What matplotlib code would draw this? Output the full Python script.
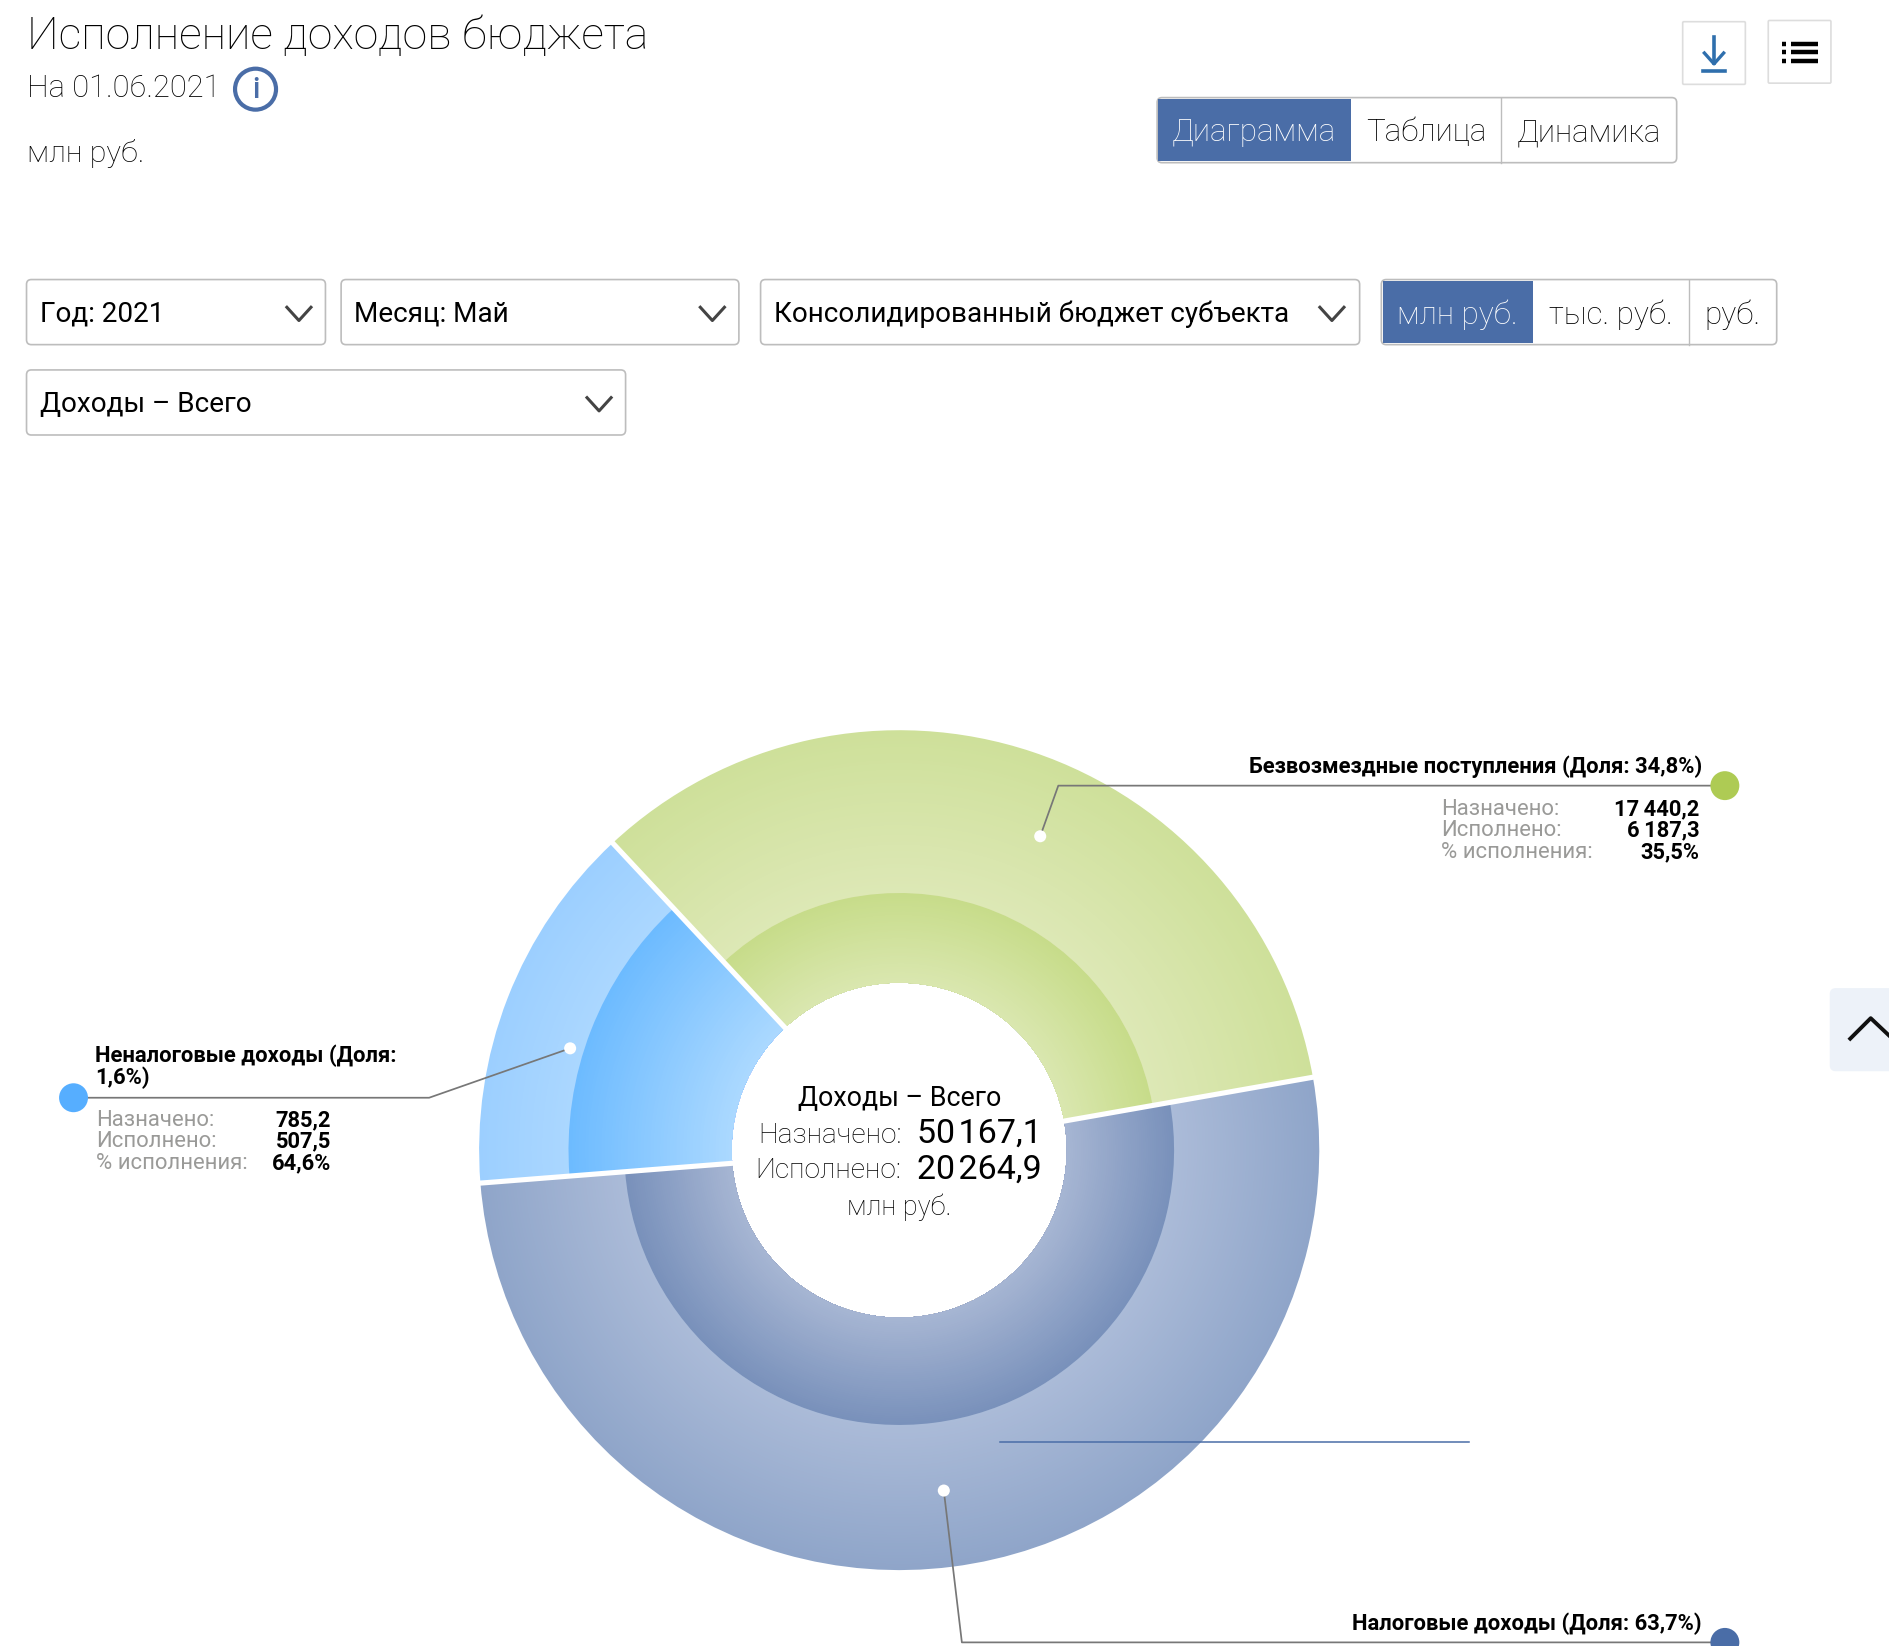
#!/usr/bin/python3
"""Budget revenue execution page: two-ring radial donut with the page controls around it."""
import numpy as np
import matplotlib
matplotlib.use("Agg")
import matplotlib.pyplot as plt
from matplotlib.patches import Wedge, Circle, FancyBboxPatch, Rectangle

plt.rcParams["font.family"] = ["Roboto", "DejaVu Sans"]

# data (the tax row is cut off at the bottom of the page, 42.5 is from its ring)
categories = ["Безвозмездные поступления", "Неналоговые доходы", "Налоговые доходы"]
shares = ["34,8%", "1,6%", "63,7%"]
planned = ["17\u2009440,2", "785,2"]
executed = ["6\u2009187,3", "507,5"]
percent_done = [35.5, 64.6, 42.5]
slice_degrees = [123.0, 51.5, 185.5]   # sweep as drawn, the site stretches tiny slices
total_planned = "50\u200a167,1"
total_executed = "20\u200a264,9"

# (inner-ring hole colour, inner-ring edge, outer-ring start, outer-ring edge)
ring_colors = [("#dae7b0", "#c7dc8a", "#dde8b6", "#cee09a"),
               ("#acd9ff", "#6dbbff", "#abd7ff", "#9ccfff"),
               ("#a7b6d3", "#7991bb", "#abbbd8", "#8fa5c9")]
dot_colors = ["#aecb54", "#56aeff", "#4a6da7"]

BLUE = "#4a6da7"
LINE = "#777777"
GREY = "#9a9a98"
EDGE = "#bdbdbd"
INK = "#000000"
CX, CY = 746, 954.5
R_OUT, R_HOLE = 348.5, 139.0
START = 10.0

W, H = 1568, 1366
fig = plt.figure(figsize=(18.9, 16.46), dpi=100)
ax = fig.add_axes([0, 0, 1, 1])
ax.set_xlim(0, W)
ax.set_ylim(H, 0)
ax.axis("off")


def fs(px):
    # px in picture-view units to points
    return px * 1890 / 1568 * 0.72


def text(x, y, s, size, color="black", ha="left", weight="normal", **kw):
    # va=center sits a bit high for this font, hence the nudge
    return ax.text(x, y + 1.5, s, fontsize=fs(size), color=color, ha=ha, va="center",
                   fontweight=weight, **kw)


def hexrgb(c):
    return np.array(matplotlib.colors.to_rgb(c))


def gradient_ring(t1, t2, r_in, r_out, c_in, c_out, steps=50):
    # largest wedge first, each smaller one painted on top: no seams between steps
    for k in range(steps, 0, -1):
        r = r_in + (r_out - r_in) * k / steps
        col = hexrgb(c_in) + (hexrgb(c_out) - hexrgb(c_in)) * k / steps
        ax.add_patch(Wedge((CX, CY), r, -t2, -t1, width=r - r_in, fc=col, lw=0))


def box(x0, y0, x1, y1, fc="white", ec=EDGE, lw=1.2, rad=4, z=2):
    ax.add_patch(FancyBboxPatch((x0, y0), x1 - x0, y1 - y0, boxstyle=f"round,pad=0,rounding_size={rad}",
                                fc=fc, ec=ec, lw=lw, zorder=z))


def chevron(x, y):
    ax.plot([x - 10, x, x + 10], [y - 5, y + 6, y - 5], color="#444444", lw=2.2, zorder=4)


def segmented(x0, y0, x1, y1, cuts, labels, size):
    box(x0, y0, x1, y1)
    ax.add_patch(Rectangle((x0 + 1, y0 + 1), cuts[0] - x0 - 1, y1 - y0 - 2, fc=BLUE, lw=0, zorder=3))
    edges = [x0] + cuts + [x1]
    for c in cuts[1:]:
        ax.plot([c, c], [y0, y1], color=EDGE, lw=1, zorder=3)
    for i, lab in enumerate(labels):
        text((edges[i] + edges[i + 1]) / 2, (y0 + y1) / 2 + 0.5, lab, size,
             color="white" if i == 0 else INK, ha="center", zorder=4, weight="light")


# ---- header ----
text(22, 29, "Исполнение доходов бюджета", 37, color=INK, weight="light")
text(22, 72, "На 01.06.2021", 25.6, color=INK, weight="light")
ax.add_patch(Circle((212, 74), 17, fc="white", ec=BLUE, lw=3))
text(212, 73, "i", 24, color=BLUE, ha="center", weight="medium")
text(22, 126, "млн руб.", 25.3, color=INK, weight="light")

box(1396, 18, 1448, 70, ec="#dddddd", rad=1)
box(1467, 17, 1519, 69, ec="#dddddd", rad=1)
ax.plot([1422, 1422], [31, 52], color="#2f6fad", lw=2.6, zorder=4)
ax.plot([1414, 1422, 1430], [44, 53, 44], color="#2f6fad", lw=2.4, zorder=4)
ax.plot([1413, 1431], [59, 59], color="#2f6fad", lw=2.6, zorder=4)
for yy in (36.5, 43.5, 50.5):
    ax.plot([1486, 1508], [yy, yy], color="black", lw=3.2, zorder=4, solid_capstyle="butt")
    ax.plot([1478, 1482], [yy, yy], color="black", lw=3.2, zorder=4, solid_capstyle="butt")

segmented(960, 81, 1391, 135, [1121, 1245], ["Диаграмма", "Таблица", "Динамика"], 26)

# ---- filters ----
for x0, x1, y0, y1, tx, chev, lab in [
        (22, 270, 232, 286, 33, 248, "Год: 2021"),
        (283, 613, 232, 286, 294, 591, "Месяц: Май"),
        (631, 1128, 232, 286, 642, 1105, "Консолидированный бюджет субъекта"),
        (22, 519, 307, 361, 33, 497, "Доходы – Всего")]:
    box(x0, y0, x1, y1)
    text(tx, (y0 + y1) / 2, lab, 23.1, color=INK, zorder=4)
    chevron(chev, (y0 + y1) / 2 + 1)
segmented(1146, 232, 1474, 286, [1272, 1401], ["млн руб.", "тыс. руб.", "руб."], 26)

# ---- donut ----
bounds = START + np.concatenate([[0], np.cumsum(slice_degrees)])
for i, pct in enumerate(percent_done):
    r_done = R_HOLE + (R_OUT - R_HOLE) * pct / 100
    c0, c1, c2, c3 = ring_colors[i]
    gradient_ring(bounds[i], bounds[i + 1], r_done, R_OUT, c2, c3)
    gradient_ring(bounds[i], bounds[i + 1], R_HOLE, r_done, c0, c1)
for b in bounds[:3]:
    a = np.radians(b)
    ax.plot([CX + (R_HOLE - 1) * np.cos(a), CX + (R_OUT + 3) * np.cos(a)],
            [CY - (R_HOLE - 1) * np.sin(a), CY - (R_OUT + 3) * np.sin(a)],
            color="white", lw=3.7, zorder=3, solid_capstyle="butt")

text(CX, 910, "Доходы – Всего", 22.2, ha="center")
text(748, 940.5, "Назначено:", 23.2, color=INK, ha="right", weight="light")
text(761, 939.5, total_planned, 28.2)
text(748, 970, "Исполнено:", 23.2, color=INK, ha="right", weight="light")
text(761, 969.5, total_executed, 28.2)
text(CX, 1000, "млн руб.", 22.5, color=INK, ha="center", weight="light")

# stray rule that sits over the chart on the page
ax.plot([830, 1219], [1197, 1197], color=BLUE, lw=1.1, zorder=6)

# ---- leader lines and callouts ----
leaders = [[(863, 694), (878, 652), (1431, 652)],
           [(473, 870), (356, 911), (61, 911)],
           [(783, 1237), (798, 1363), (1431, 1363)]]
for i, pts in enumerate(leaders):
    xs, ys = zip(*pts)
    ax.plot(xs, ys, color=LINE, lw=1.25, zorder=5)
    ax.add_patch(Circle(pts[0], 5, fc="white", lw=0, zorder=6))
    ax.add_patch(Circle(pts[-1], 12, fc=dot_colors[i], lw=0, zorder=6))

row_names = ["Назначено:", "Исполнено:", "% исполнения:"]


def callout_rows(i, x_name, x_val, y0):
    vals = [planned[i], executed[i], f"{percent_done[i]:.1f}%".replace(".", ",")]
    for k, (name, val) in enumerate(zip(row_names, vals)):
        text(x_name, y0 + 18 * k, name, 18.4, color=GREY, zorder=7)
        text(x_val, y0 + 18 * k, val, 18.2, ha="right", weight="bold", zorder=7)


text(1412, 635, f"{categories[0]} (Доля: {shares[0]})", 18.25, ha="right", weight="bold", zorder=7)
callout_rows(0, 1195.5, 1410, 670)
text(79, 875, f"{categories[1]} (Доля:", 18.25, weight="bold", zorder=7)
text(79, 893, f"{shares[1]})", 18.25, weight="bold", zorder=7)
callout_rows(1, 79.5, 274.5, 928)
text(1412, 1346, f"{categories[2]} (Доля: {shares[2]})", 18.25, ha="right", weight="bold", zorder=7)

# scroll-to-top tab on the right edge
box(1518, 820, 1590, 889, fc="#edf2f9", ec="none", rad=5)
ax.plot([1535, 1552, 1570], [862, 845, 862], color="#111111", lw=2.8, zorder=4)

fig.savefig("out.png", dpi=100)
